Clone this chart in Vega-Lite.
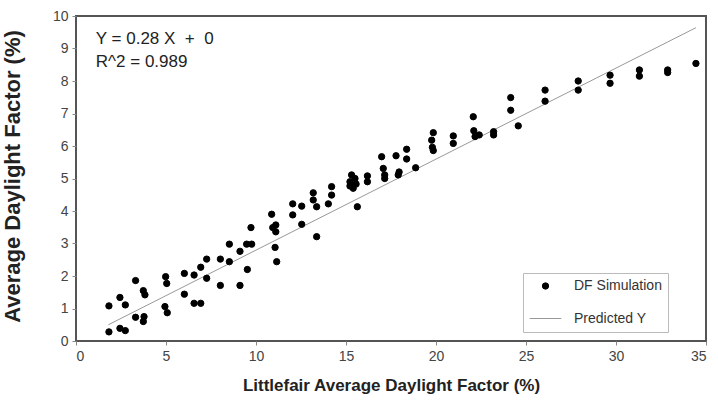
{
  "$schema": "https://vega.github.io/schema/vega-lite/v6.json",
  "width": 630,
  "height": 325,
  "autosize": {"type": "none"},
  "padding": {"left": 76, "top": 16, "right": 12, "bottom": 62},
  "background": "white",
  "config": {
    "font": "Liberation Sans",
    "view": {"stroke": "#555", "strokeWidth": 2},
    "axis": {
      "grid": false,
      "domain": false,
      "tickColor": "#888",
      "tickSize": 4,
      "labelColor": "#444",
      "labelFontSize": 14,
      "labelOverlap": false,
      "labelFont": "Liberation Sans",
      "titleFont": "Liberation Sans",
      "titleColor": "#222",
      "titleFontWeight": "bold"
    },
    "axisY": {"labelOverlap": false, "labelBound": false, "labelFlush": false},
    "axisQuantitative": {"labelOverlap": false},
    "legend": {
      "orient": "none",
      "legendX": 447,
      "legendY": 257,
      "strokeColor": "#bbb",
      "padding": 6,
      "rowPadding": 9,
      "labelOffset": 12,
      "labelFontSize": 14,
      "labelColor": "#333",
      "labelFont": "Liberation Sans",
      "symbolStrokeWidth": 1
    }
  },
  "datasets": {
    "pts": [
      {"x": 1.83, "y": 0.28, "series": "DF Simulation"},
      {"x": 1.83, "y": 1.08, "series": "DF Simulation"},
      {"x": 2.44, "y": 1.34, "series": "DF Simulation"},
      {"x": 2.44, "y": 0.39, "series": "DF Simulation"},
      {"x": 2.74, "y": 0.32, "series": "DF Simulation"},
      {"x": 2.74, "y": 1.11, "series": "DF Simulation"},
      {"x": 3.31, "y": 1.86, "series": "DF Simulation"},
      {"x": 3.31, "y": 0.73, "series": "DF Simulation"},
      {"x": 3.74, "y": 1.55, "series": "DF Simulation"},
      {"x": 3.83, "y": 1.42, "series": "DF Simulation"},
      {"x": 3.78, "y": 0.75, "series": "DF Simulation"},
      {"x": 3.74, "y": 0.6, "series": "DF Simulation"},
      {"x": 4.98, "y": 1.98, "series": "DF Simulation"},
      {"x": 5.04, "y": 1.77, "series": "DF Simulation"},
      {"x": 4.94, "y": 1.06, "series": "DF Simulation"},
      {"x": 5.07, "y": 0.87, "series": "DF Simulation"},
      {"x": 6.02, "y": 2.08, "series": "DF Simulation"},
      {"x": 6.02, "y": 1.44, "series": "DF Simulation"},
      {"x": 6.56, "y": 2.03, "series": "DF Simulation"},
      {"x": 6.56, "y": 1.16, "series": "DF Simulation"},
      {"x": 6.93, "y": 1.16, "series": "DF Simulation"},
      {"x": 6.93, "y": 2.27, "series": "DF Simulation"},
      {"x": 7.26, "y": 2.52, "series": "DF Simulation"},
      {"x": 7.26, "y": 1.93, "series": "DF Simulation"},
      {"x": 8.02, "y": 2.52, "series": "DF Simulation"},
      {"x": 8.02, "y": 1.71, "series": "DF Simulation"},
      {"x": 8.52, "y": 2.98, "series": "DF Simulation"},
      {"x": 8.52, "y": 2.44, "series": "DF Simulation"},
      {"x": 9.11, "y": 2.76, "series": "DF Simulation"},
      {"x": 9.11, "y": 1.71, "series": "DF Simulation"},
      {"x": 9.52, "y": 2.2, "series": "DF Simulation"},
      {"x": 9.48, "y": 2.98, "series": "DF Simulation"},
      {"x": 9.76, "y": 2.98, "series": "DF Simulation"},
      {"x": 9.72, "y": 3.49, "series": "DF Simulation"},
      {"x": 10.87, "y": 3.9, "series": "DF Simulation"},
      {"x": 10.93, "y": 3.49, "series": "DF Simulation"},
      {"x": 11.1, "y": 3.57, "series": "DF Simulation"},
      {"x": 11.1, "y": 3.36, "series": "DF Simulation"},
      {"x": 11.06, "y": 2.88, "series": "DF Simulation"},
      {"x": 11.15, "y": 2.44, "series": "DF Simulation"},
      {"x": 12.04, "y": 4.22, "series": "DF Simulation"},
      {"x": 12.04, "y": 3.88, "series": "DF Simulation"},
      {"x": 12.54, "y": 4.15, "series": "DF Simulation"},
      {"x": 12.54, "y": 3.59, "series": "DF Simulation"},
      {"x": 13.18, "y": 4.56, "series": "DF Simulation"},
      {"x": 13.18, "y": 4.34, "series": "DF Simulation"},
      {"x": 13.37, "y": 4.13, "series": "DF Simulation"},
      {"x": 13.37, "y": 3.21, "series": "DF Simulation"},
      {"x": 14.02, "y": 4.22, "series": "DF Simulation"},
      {"x": 14.2, "y": 4.75, "series": "DF Simulation"},
      {"x": 14.2, "y": 4.49, "series": "DF Simulation"},
      {"x": 15.31, "y": 5.11, "series": "DF Simulation"},
      {"x": 15.22, "y": 4.9, "series": "DF Simulation"},
      {"x": 15.22, "y": 4.77, "series": "DF Simulation"},
      {"x": 15.56, "y": 4.83, "series": "DF Simulation"},
      {"x": 15.4, "y": 4.7, "series": "DF Simulation"},
      {"x": 15.5, "y": 5.0, "series": "DF Simulation"},
      {"x": 15.63, "y": 4.13, "series": "DF Simulation"},
      {"x": 16.19, "y": 5.08, "series": "DF Simulation"},
      {"x": 16.19, "y": 4.9, "series": "DF Simulation"},
      {"x": 16.98, "y": 5.67, "series": "DF Simulation"},
      {"x": 17.07, "y": 5.31, "series": "DF Simulation"},
      {"x": 17.15, "y": 5.11, "series": "DF Simulation"},
      {"x": 17.15, "y": 5.0, "series": "DF Simulation"},
      {"x": 17.78, "y": 5.7, "series": "DF Simulation"},
      {"x": 17.9, "y": 5.11, "series": "DF Simulation"},
      {"x": 17.95, "y": 5.2, "series": "DF Simulation"},
      {"x": 18.37, "y": 5.9, "series": "DF Simulation"},
      {"x": 18.37, "y": 5.6, "series": "DF Simulation"},
      {"x": 18.87, "y": 5.33, "series": "DF Simulation"},
      {"x": 19.85, "y": 6.41, "series": "DF Simulation"},
      {"x": 19.76, "y": 6.18, "series": "DF Simulation"},
      {"x": 19.8, "y": 5.96, "series": "DF Simulation"},
      {"x": 19.85, "y": 5.86, "series": "DF Simulation"},
      {"x": 20.96, "y": 6.31, "series": "DF Simulation"},
      {"x": 20.96, "y": 6.08, "series": "DF Simulation"},
      {"x": 22.07, "y": 6.9, "series": "DF Simulation"},
      {"x": 22.1, "y": 6.47, "series": "DF Simulation"},
      {"x": 22.17, "y": 6.29, "series": "DF Simulation"},
      {"x": 22.4, "y": 6.34, "series": "DF Simulation"},
      {"x": 23.2, "y": 6.44, "series": "DF Simulation"},
      {"x": 23.2, "y": 6.34, "series": "DF Simulation"},
      {"x": 24.15, "y": 7.49, "series": "DF Simulation"},
      {"x": 24.15, "y": 7.1, "series": "DF Simulation"},
      {"x": 24.57, "y": 6.62, "series": "DF Simulation"},
      {"x": 26.06, "y": 7.72, "series": "DF Simulation"},
      {"x": 26.06, "y": 7.38, "series": "DF Simulation"},
      {"x": 27.9, "y": 8.0, "series": "DF Simulation"},
      {"x": 27.9, "y": 7.72, "series": "DF Simulation"},
      {"x": 29.67, "y": 8.18, "series": "DF Simulation"},
      {"x": 29.67, "y": 7.93, "series": "DF Simulation"},
      {"x": 31.3, "y": 8.34, "series": "DF Simulation"},
      {"x": 31.3, "y": 8.15, "series": "DF Simulation"},
      {"x": 32.87, "y": 8.34, "series": "DF Simulation"},
      {"x": 32.87, "y": 8.26, "series": "DF Simulation"},
      {"x": 34.44, "y": 8.54, "series": "DF Simulation"}
    ],
    "fit": [
      {"x": 1.8, "y": 0.5, "series": "Predicted Y"},
      {"x": 34.44, "y": 9.64, "series": "Predicted Y"}
    ],
    "notes": [
      {"x": 1.1, "y": 9.29, "label": "Y = 0.28 X \u00a0+ \u00a00"},
      {"x": 1.1, "y": 8.57, "label": "R^2 = 0.989"}
    ]
  },
  "encoding": {
    "x": {
      "field": "x", "type": "quantitative",
      "scale": {"domain": [0, 35], "nice": false},
      "axis": {"values": [0, 5, 10, 15, 20, 25, 30, 35], "labelPadding": 4, "labelOverlap": false, "title": "Littlefair Average Daylight Factor (%)", "titleFontSize": 17, "titlePadding": 14}
    },
    "y": {
      "field": "y", "type": "quantitative",
      "scale": {"domain": [0, 10], "nice": false},
      "axis": {"values": [0, 1, 2, 3, 4, 5, 6, 7, 8, 9, 10], "labelPadding": 4, "labelOverlap": false, "labelBound": false, "title": "Average Daylight Factor (%)", "titleFontSize": 22, "titleX": -52, "titleY": 160}
    }
  },
  "layer": [
    {
      "data": {"name": "fit"},
      "mark": {"type": "line", "strokeWidth": 1},
      "encoding": {
        "color": {
          "field": "series", "type": "nominal",
          "scale": {"domain": ["DF Simulation", "Predicted Y"], "range": ["#000000", "#999999"]},
          "legend": {"title": null}
        }
      }
    },
    {
      "data": {"name": "pts"},
      "mark": {"type": "point", "filled": true, "opacity": 1, "strokeWidth": 1},
      "encoding": {
        "color": {"field": "series", "type": "nominal", "legend": {"title": null}},
        "stroke": {
          "field": "series", "type": "nominal",
          "scale": {"domain": ["DF Simulation", "Predicted Y"], "range": ["#000000", "#999999"]},
          "legend": {"title": null}
        },
        "shape": {
          "field": "series", "type": "nominal",
          "scale": {"domain": ["DF Simulation", "Predicted Y"], "range": ["circle", "stroke"]},
          "legend": {"title": null}
        },
        "size": {
          "field": "series", "type": "ordinal",
          "scale": {"domain": ["DF Simulation", "Predicted Y"], "range": [40, 1000]},
          "legend": {"title": null}
        }
      }
    },
    {
      "data": {"name": "notes"},
      "mark": {"type": "text", "align": "left", "baseline": "middle", "fontSize": 17, "color": "#222", "font": "Liberation Sans"},
      "encoding": {
        "text": {"field": "label"}
      }
    }
  ]
}
